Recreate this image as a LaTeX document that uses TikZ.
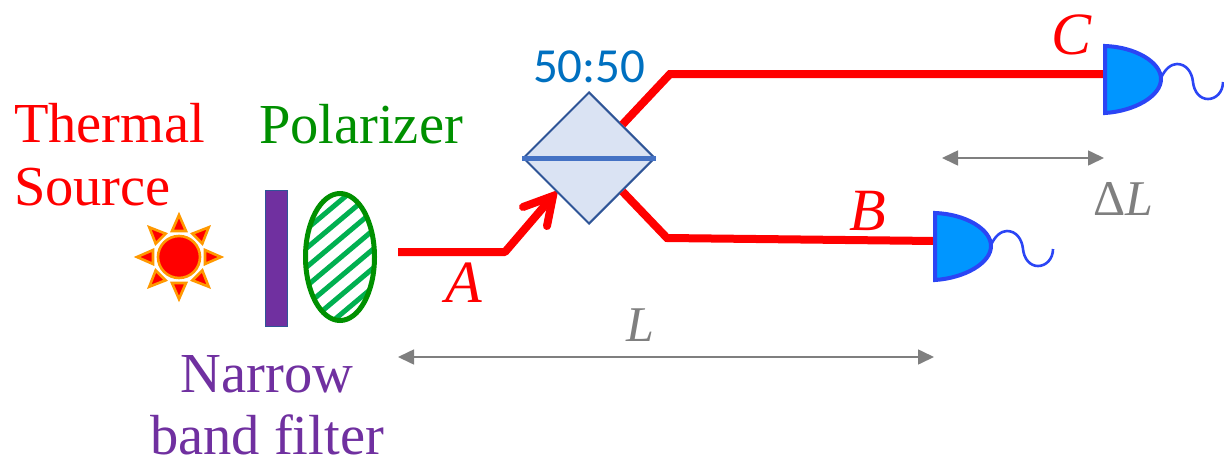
\documentclass[tikz,border=0pt]{standalone}
\usepackage{fontspec}
\setmainfont{Liberation Serif}
\newfontfamily\calib{Carlito}
\usetikzlibrary{shapes.geometric,arrows.meta}
\definecolor{beamred}{HTML}{FF0000}
\definecolor{filterpurple}{HTML}{7030A0}
\definecolor{edgeblue}{HTML}{2F5597}
\definecolor{polgreen}{HTML}{009000}
\definecolor{hatchgreen}{HTML}{00B050}
\definecolor{cubefill}{HTML}{DAE3F3}
\definecolor{splitblue}{HTML}{4472C4}
\definecolor{detfill}{HTML}{0096FF}
\definecolor{detedge}{HTML}{2B45F5}
\definecolor{labelblue}{HTML}{0070C0}
\definecolor{dimgray}{HTML}{7F7F7F}
\definecolor{sunorange}{HTML}{FF9900}
\tikzset{
  x=1pt,y=-1pt,
  lbl/.style={inner sep=0pt,outer sep=0pt,anchor=base west,font=\fontsize{56.5}{60}\selectfont},
  mlbl/.style={lbl,font=\fontsize{60}{64}\selectfont\itshape},
  beam/.style={draw=beamred,line width=8pt,line join=miter},
  dimline/.style={draw=dimgray,line width=1.6pt,{Triangle[length=16pt,width=15pt]}-{Triangle[length=16pt,width=15pt]}},
  ray/.style={fill=beamred,draw=sunorange,line width=2.6pt,line join=miter},
  detbody/.style={fill=detfill,draw=detedge,line width=4pt,line join=miter},
  detwave/.style={draw=detedge,line width=2.6pt},
}
\newcommand{\detector}[3]{%
  \begin{scope}[shift={(#1,#2)}]
    \coordinate (#3) at (0,0);
    \path[detbody] (0,-33) .. controls (30,-32) and (56,-17) .. (56,0)
       .. controls (56,17) and (30,32) .. (0,34) -- cycle;
    \path[detwave] (56,-1) .. controls (60,-10) and (66,-15) .. (72,-15)
       .. controls (81,-15) and (87,-7) .. (88,3)
       .. controls (89,13) and (95,20) .. (103,20)
       .. controls (111,20) and (118,13) .. (118,3);
  \end{scope}}
\begin{document}
\begin{tikzpicture}
\useasboundingbox (0,0) rectangle (1224,461);
% sun
\coordinate (sun) at (179,257);
\foreach \a in {0,45,...,315}{
  \path[ray,rotate around={\a:(sun)}] ([xshift=26pt,yshift=-7pt]sun) -- ([xshift=42pt]sun) -- ([xshift=26pt,yshift=7pt]sun) -- cycle;
}
\node[circle,fill=beamred,draw=sunorange,line width=2.6pt,minimum size=42pt,inner sep=0pt] (sunc) at (sun) {};
% filter
\node[rectangle,fill=filterpurple,draw=edgeblue,line width=1.6pt,minimum width=22pt,minimum height=136pt,inner sep=0pt] (filter) at (276.5,258.5) {};
% polarizer
\begin{scope}
  \clip (340,257) ellipse [x radius=34,y radius=63];
  \foreach \c in {-75,-56,...,95}{
    \draw[hatchgreen,line width=5pt] (290,{257+\c+42}) -- (390,{257+\c-42});
  }
\end{scope}
\node[ellipse,draw=polgreen,line width=5pt,minimum width=69pt,minimum height=127pt,inner sep=0pt] (pol) at (340,257) {};
% beams
\coordinate (a0) at (398,252);
\coordinate (a1) at (505,252);
\coordinate (a2) at (553,196);
\coordinate (barb1) at (523,207);
\coordinate (barb2) at (547,226);
\draw[beam,line cap=butt,line join=round] (a0) -- (a1) -- (a2);
\draw[beam,line cap=round,line join=miter] (barb1) -- (a2) -- (barb2);
% beam splitter
\node[diamond,aspect=1,fill=cubefill,draw=edgeblue,line width=2pt,minimum width=132pt,minimum height=132pt,inner sep=0pt] (cube) at (589,158) {};
\draw[splitblue,line width=5pt] (cube.west) -- (cube.east);
\coordinate (c1) at (670,74);
\coordinate (c2) at (1105,74);
\draw[beam] (cube.north east) -- (c1) -- (c2);
\coordinate (b1) at (667,238);
\coordinate (b2) at (935,241);
\draw[beam] (cube.south east) -- (b1) -- (b2);
% detectors
\detector{1105}{79}{detC}
\detector{935}{246}{detB}
% dimensions
\coordinate (l0) at (398,357);
\coordinate (l1) at (934,357);
\coordinate (d0) at (942,158);
\coordinate (d1) at (1104,158);
\draw[dimline] (l0) -- (l1);
\draw[dimline] (d0) -- (d1);
% labels
\node[lbl,text=beamred] (t1) at (14,142) {Thermal};
\node[lbl,text=beamred] (t2) at (14,205) {Source};
\node[lbl,text=polgreen] (t3) at (259,143) {Polarizer};
\node[lbl,text=filterpurple,anchor=base] (t4) at (267,392) {Narrow};
\node[lbl,text=filterpurple,anchor=base] (t5) at (267,454) {band filter};
\node[lbl,text=labelblue,font=\fontsize{49}{52}\selectfont\calib] (t6) at (533,82) {50:50};
\node[mlbl,text=beamred] (la) at (445,302) {A};
\node[mlbl,text=beamred] (lb) at (849,230) {B};
\node[mlbl,text=beamred] (lc) at (1051,54) {C};
\node[mlbl,text=dimgray,font=\fontsize{50}{54}\selectfont\itshape] (ll) at (626,341) {L};
\node[lbl,text=dimgray,font=\fontsize{50}{54}\selectfont] (ld) at (1093,215) {Δ\textit{L}};
\end{tikzpicture}
\end{document}
